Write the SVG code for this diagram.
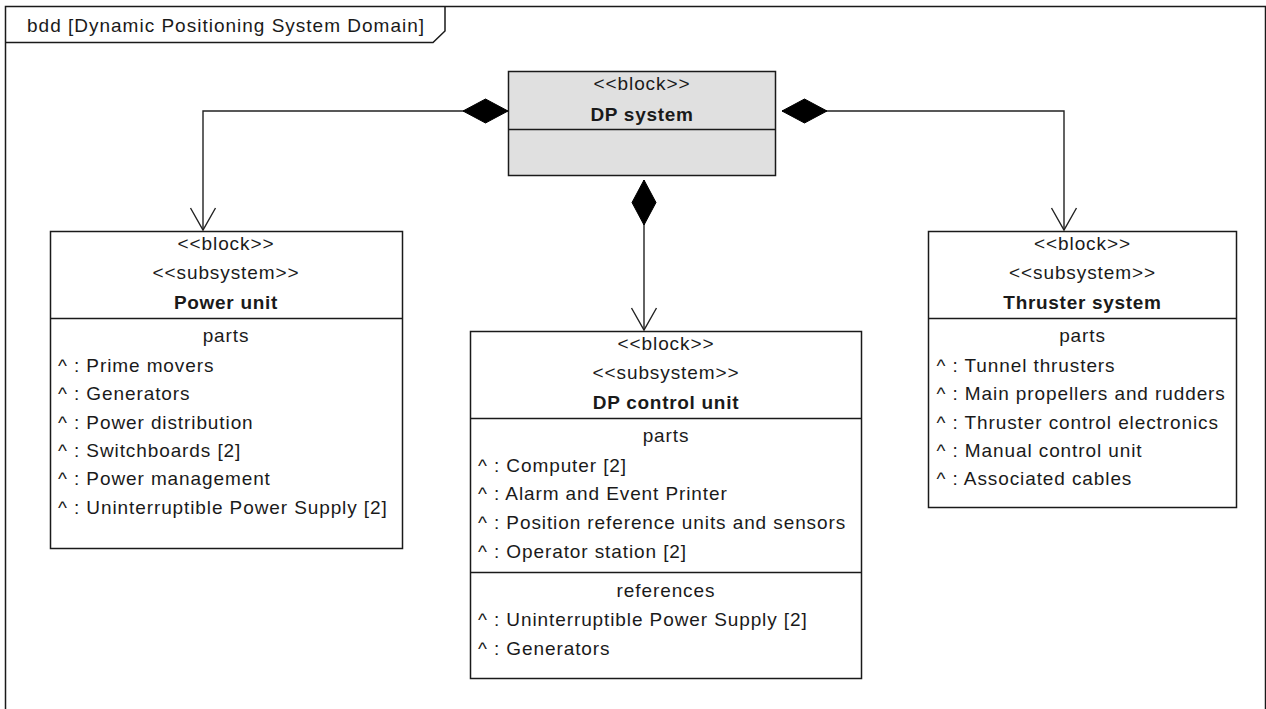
<svg xmlns="http://www.w3.org/2000/svg" width="1266" height="709" viewBox="0 0 1266 709">
<style>
text{font-family:"Liberation Sans",Arial,sans-serif;font-size:19px;fill:#1a1a1a;letter-spacing:0.9px}
.c{text-anchor:middle}
.b{font-weight:bold;letter-spacing:0.7px}
.box{fill:#fff;stroke:#1a1a1a;stroke-width:1.5}
.gray{fill:#e0e0e0}
.div{stroke:#1a1a1a;stroke-width:1.5;fill:none}
.conn{fill:none;stroke:#222;stroke-width:1.4;marker-start:url(#diamond);marker-end:url(#arrow)}
</style>
<defs>
<marker id="diamond" markerUnits="userSpaceOnUse" orient="auto" refX="0" refY="0" markerWidth="50" markerHeight="30" overflow="visible">
<path d="M0,0 L22.5,-12 L45,0 L22.5,12 Z" fill="#000" stroke="#000" stroke-width="1"/>
</marker>
<marker id="arrow" markerUnits="userSpaceOnUse" orient="auto" refX="0" refY="0" markerWidth="30" markerHeight="30" overflow="visible">
<path d="M-22,-12.5 L0,0 L-22,12.5" fill="none" stroke="#222" stroke-width="1.4"/>
</marker>
</defs>
<rect width="1266" height="709" fill="#fff"/>
<g id="frame">
<rect x="5.5" y="6.5" width="1260" height="720" fill="none" stroke="#1a1a1a" stroke-width="1.5"/>
<path d="M5.5,42.5 H433 L445,31 V6.5" fill="none" stroke="#1a1a1a" stroke-width="1.5"/>
<text x="27" y="32" style="letter-spacing:1px">bdd [Dynamic Positioning System Domain]</text>
</g>
<g id="connectors">
<path class="conn" d="M508,111 H203 V230"/>
<path class="conn" d="M782,111 H1064 V230"/>
<path class="conn" d="M644,180 V330"/>
</g>
<g id="dp-system">
<rect class="box gray" x="508.5" y="71.5" width="267" height="104"/>
<line class="div" x1="508.5" y1="129.5" x2="775.5" y2="129.5"/>
<text class="c" x="642" y="90">&lt;&lt;block&gt;&gt;</text>
<text class="c b" x="642" y="121">DP system</text>
</g>
<g id="power-unit">
<rect class="box" x="50.5" y="231.5" width="352" height="317"/>
<line class="div" x1="50.5" y1="318.5" x2="402.5" y2="318.5"/>
<text class="c" x="226" y="250">&lt;&lt;block&gt;&gt;</text>
<text class="c" x="226" y="279">&lt;&lt;subsystem&gt;&gt;</text>
<text class="c b" x="226" y="308.5">Power unit</text>
<text class="c" x="226" y="342">parts</text>
<text x="58" y="372">^ : Prime movers</text>
<text x="58" y="400">^ : Generators</text>
<text x="58" y="428.5">^ : Power distribution</text>
<text x="58" y="457">^ : Switchboards [2]</text>
<text x="58" y="485">^ : Power management</text>
<text x="58" y="513.5">^ : Uninterruptible Power Supply [2]</text>
</g>
<g id="dp-control-unit">
<rect class="box" x="470.5" y="331.5" width="391" height="347"/>
<line class="div" x1="470.5" y1="418.5" x2="861.5" y2="418.5"/>
<line class="div" x1="470.5" y1="572.5" x2="861.5" y2="572.5"/>
<text class="c" x="666" y="350">&lt;&lt;block&gt;&gt;</text>
<text class="c" x="666" y="379">&lt;&lt;subsystem&gt;&gt;</text>
<text class="c b" x="666" y="408.5">DP control unit</text>
<text class="c" x="666" y="442">parts</text>
<text x="478" y="471.5">^ : Computer [2]</text>
<text x="478" y="500">^ : Alarm and Event Printer</text>
<text x="478" y="528.5">^ : Position reference units and sensors</text>
<text x="478" y="557.5">^ : Operator station [2]</text>
<text class="c" x="666" y="596.5">references</text>
<text x="478" y="626">^ : Uninterruptible Power Supply [2]</text>
<text x="478" y="654.5">^ : Generators</text>
</g>
<g id="thruster-system">
<rect class="box" x="928.5" y="231.5" width="308" height="276"/>
<line class="div" x1="928.5" y1="318.5" x2="1236.5" y2="318.5"/>
<text class="c" x="1082.5" y="250">&lt;&lt;block&gt;&gt;</text>
<text class="c" x="1082.5" y="279">&lt;&lt;subsystem&gt;&gt;</text>
<text class="c b" x="1082.5" y="308.5">Thruster system</text>
<text class="c" x="1082.5" y="342">parts</text>
<text x="936.5" y="372">^ : Tunnel thrusters</text>
<text x="936.5" y="400">^ : Main propellers and rudders</text>
<text x="936.5" y="428.5">^ : Thruster control electronics</text>
<text x="936.5" y="457">^ : Manual control unit</text>
<text x="936.5" y="485">^ : Associated cables</text>
</g>
</svg>
